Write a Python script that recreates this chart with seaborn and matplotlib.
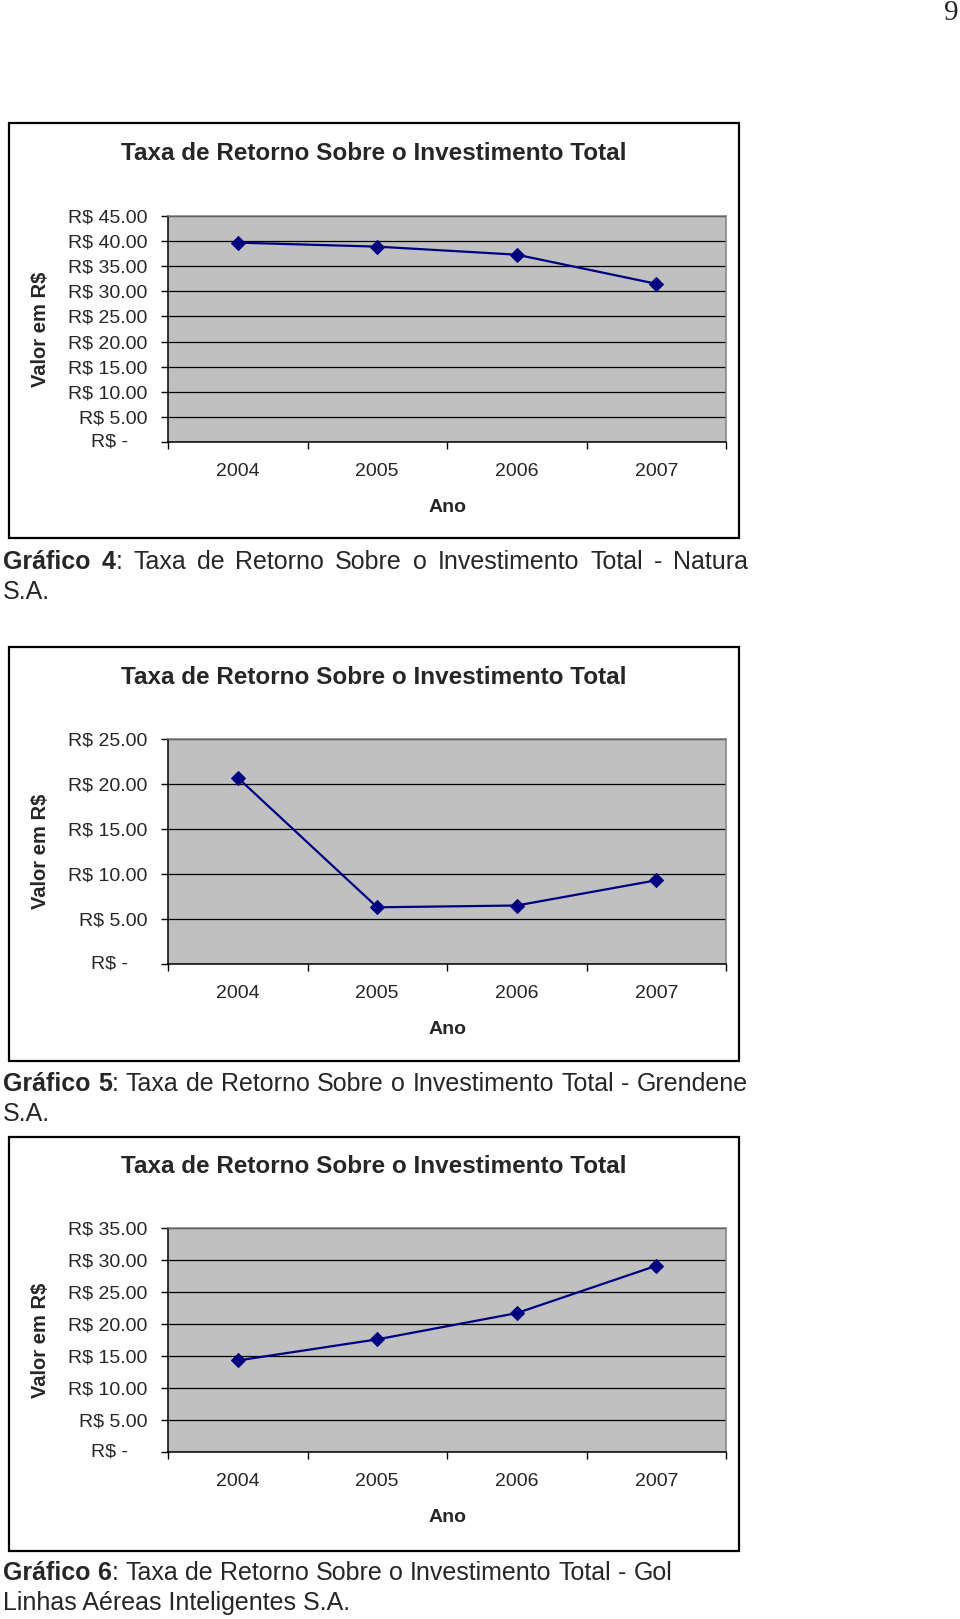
import numpy as np
import pandas as pd
import matplotlib
matplotlib.use("Agg")
import matplotlib.pyplot as plt
import matplotlib.transforms as mtransforms
from matplotlib.patches import Rectangle
import seaborn as sns

# ---------------- data ----------------
years = ["2004", "2005", "2006", "2007"]
natura = [39.7, 38.9, 37.3, 31.5]
grendene = [20.7, 6.3, 6.5, 9.3]
gol = [14.3, 17.6, 21.7, 29.1]
ticks_natura = [0, 5, 10, 15, 20, 25, 30, 35, 40, 45]
ticks_grendene = [0, 5, 10, 15, 20, 25]
ticks_gol = [0, 5, 10, 15, 20, 25, 30, 35]
chart_title = "Taxa de Retorno Sobre o Investimento Total"
y_title = "Valor em R$"
x_title = "Ano"
caption_labels = ["Gráfico 4", "Gráfico 5", "Gráfico 6"]
caption_texts = [
    ": Taxa de Retorno Sobre o Investimento Total - Natura",
    ": Taxa de Retorno Sobre o Investimento Total - Grendene",
    ": Taxa de Retorno Sobre o Investimento Total - Gol",
]
caption_second = ["S.A.", "S.A.", "Linhas Aéreas Inteligentes S.A."]
page_number = "9"

# ---------------- style ----------------
sns.set_style("white")
plt.rcParams['font.family'] = ['Liberation Sans', 'DejaVu Sans']

W, H = 960, 1619
fig = plt.figure(figsize=(W / 100, H / 100), dpi=100)
renderer = fig.canvas.get_renderer()


def fx(px):
    return px / W


def fy(py):
    return 1 - py / H


def fmt_label(v):
    return "" if v == 0 else f"R$ {v:.2f}"


panels = [
    dict(bt=123, bb=538, pt=216, pb=442, ty=154, cy=562, vals=natura, ticks=ticks_natura, just=True),
    dict(bt=647, bb=1061, pt=739, pb=964, ty=677, cy=1084, vals=grendene, ticks=ticks_grendene, just=True),
    dict(bt=1137, bb=1551, pt=1228, pb=1452, ty=1166, cy=1573, vals=gol, ticks=ticks_gol, just=False),
]

BOX_L, BOX_R = 9, 739
PL, PR = 168, 726
CAP_FS = 18
CAP_LEFT = 3
CAP_RIGHT = 748

for i, p in enumerate(panels):
    fig.patches.append(Rectangle((fx(BOX_L), fy(p['bb'])), fx(BOX_R - BOX_L), (p['bb'] - p['bt']) / H,
                                 transform=fig.transFigure, fill=False, ec='black', lw=1.6, zorder=0))
    ax = fig.add_axes([fx(PL), fy(p['pb']), fx(PR - PL), (p['pb'] - p['pt']) / H])
    ax.set_facecolor('#C0C0C0')
    df = pd.DataFrame({"pos": np.arange(len(years)), "valor": p['vals']})
    sns.lineplot(data=df, x="pos", y="valor", ax=ax, color='#000080', lw=1.6,
                 marker='D', markersize=7.5, markeredgecolor='#000080')
    ymax = p['ticks'][-1]
    ax.set_ylim(0, ymax)
    ax.set_xlim(-0.5, len(years) - 0.5)
    ax.set_yticks(p['ticks'])
    ax.set_yticklabels([fmt_label(v) for v in p['ticks']], fontsize=14)
    ax.set_xticks(np.arange(len(years) + 1) - 0.5)
    ax.set_xticklabels([])
    ax.set_xticks(np.arange(len(years)), minor=True)
    ax.set_xticklabels(years, minor=True, fontsize=14)
    ax.tick_params(axis='x', which='major', direction='out', length=5, width=1, color='black', bottom=True)
    ax.tick_params(axis='x', which='minor', length=0, pad=15)
    ax.tick_params(axis='y', direction='out', length=5, width=1, color='black', pad=10, left=True)
    ax.yaxis.grid(True, color='black', lw=0.9)
    ax.xaxis.grid(False)
    ax.set_axisbelow(True)
    for s in ['left', 'bottom']:
        ax.spines[s].set_color('black')
        ax.spines[s].set_linewidth(1.1)
    for s in ['top', 'right']:
        ax.spines[s].set_color('#808080')
        ax.spines[s].set_linewidth(1.1)
    ax.set_xlabel("")
    ax.set_ylabel("")
    tr = mtransforms.offset_copy(ax.get_yaxis_transform(), fig=fig, x=-40, y=0, units='dots')
    ax.text(0, 0, "R$ -", transform=tr, ha='right', va='center', fontsize=14)

    fig.text(fx((BOX_L + BOX_R) / 2), fy(p['ty']), chart_title, ha='center', va='center',
             fontsize=17.5, fontweight='bold')
    fig.text(fx(448), fy(p['pb'] + 65), x_title, ha='center', va='center', fontsize=14, fontweight='bold')
    fig.text(fx(41), fy((p['pt'] + p['pb']) / 2), y_title, ha='center', va='center', rotation=90,
             fontsize=14.5, fontweight='bold')

    label_words = caption_labels[i].split(" ")
    rest_words = caption_texts[i].split(" ")
    tokens = [[(w, 'bold')] for w in label_words[:-1]]
    tokens.append([(label_words[-1], 'bold'), (rest_words[0], 'normal')])
    tokens += [[(w, 'normal')] for w in rest_words[1:] if w]

    def seg_width(s, weight):
        t = fig.text(0, 0, s, fontsize=CAP_FS, fontweight=weight)
        wdt = t.get_window_extent(renderer).width
        t.remove()
        return wdt

    tok_w = [sum(seg_width(s, wgt) for s, wgt in tok) for tok in tokens]
    space_w = seg_width("a a", 'normal') - 2 * seg_width("a", 'normal')
    if p['just']:
        gap = (CAP_RIGHT - CAP_LEFT - sum(tok_w)) / (len(tokens) - 1)
    else:
        gap = space_w
    xcur = CAP_LEFT
    for tok, tw in zip(tokens, tok_w):
        xx = xcur
        for s, wgt in tok:
            fig.text(fx(xx), fy(p['cy']), s, ha='left', va='center', fontsize=CAP_FS, fontweight=wgt)
            xx += seg_width(s, wgt)
        xcur += tw + gap
    fig.text(fx(CAP_LEFT), fy(p['cy'] + 30), caption_second[i], ha='left', va='center', fontsize=CAP_FS)

fig.text(fx(951), fy(13), page_number, ha='center', va='center', fontsize=21,
         family=['Liberation Serif', 'DejaVu Serif'])

fig.savefig("out.png", dpi=100)
